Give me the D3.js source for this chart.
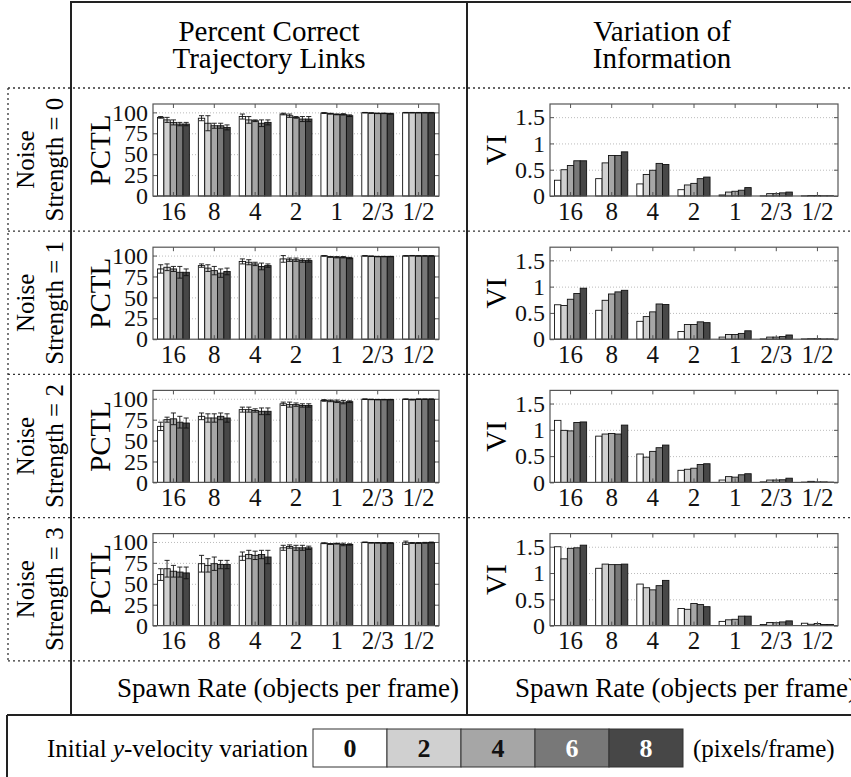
<!DOCTYPE html>
<html>
<head>
<meta charset="utf-8">
<title>PCTL and VI by spawn rate</title>
<script src="https://cdn.jsdelivr.net/npm/d3@7"></script>
<style>
  body { margin: 0; background: #fff; }
</style>
</head>
<body>
<script>
// spawn rates (groups) and y-velocity variations (series)
var rates = ["16", "8", "4", "2", "1", "2/3", "1/2"]
var velocities = [0, 2, 4, 6, 8]
var noiseLevels = [0, 1, 2, 3]
var velColors = ["#ffffff", "#d0d0d0", "#a6a6a6", "#787878", "#474747"]
var pctlTicks = [0, 25, 50, 75, 100]
var viTicks = [0, 0.5, 1, 1.5]

// percent correct trajectory links, [rate][velocity], one array per noise strength
var pctl0 = [[94, 91, 88, 86, 86], [93, 87, 84, 84, 82], [95, 91, 90, 87, 88], [98, 96, 94, 92, 92],
             [99.2, 98.4, 97.6, 97.6, 96], [99.6, 99.2, 98.8, 98.8, 98.4], [99.6, 99.6, 99.6, 99.6, 99.6]]
var pctl1 = [[84, 86, 84, 80, 80], [88, 85, 82, 79, 81], [93, 92, 90, 87, 88], [96, 95, 95, 94, 94],
             [99.6, 98.4, 98, 98, 97], [99.6, 99.2, 98.8, 98.8, 98.8], [99.6, 99.8, 99.6, 99.6, 99.6]]
var pctl2 = [[67, 75, 76, 72, 71], [79, 77, 77, 79, 77], [87, 87, 86, 85, 85], [94, 93, 93, 92, 92],
             [98, 97.5, 97, 96, 96.5], [99.5, 99.2, 99, 99, 99], [99.5, 99, 99.5, 99.5, 99.5]]
var pctl3 = [[61, 68, 65, 64, 63], [74, 72, 74, 73, 73], [83, 85, 84, 85, 82], [93, 94.5, 93, 93, 93],
             [98.5, 97.6, 98, 97, 97], [99.6, 99, 99, 98.8, 98.8], [99, 98.8, 98.8, 99, 99.4]]

// error bar half-lengths for the PCTL bars
var err0 = [[1, 3, 3, 2, 2], [3, 9, 3, 3, 3], [3, 4, 1, 4, 3], [1, 2, 1, 3, 3],
            [0.5, 0.5, 0.5, 0.8, 1], [0.3, 0.3, 0.3, 0.3, 0.5], [0.3, 0.3, 0.3, 0.3, 0.3]]
var err1 = [[5, 4, 3, 7, 4], [2, 4, 5, 5, 4], [3, 3, 2, 4, 2], [4, 2, 2, 2, 2],
            [0.3, 0.5, 0.8, 0.8, 0.8], [0.3, 0.3, 0.3, 0.3, 0.3], [0.3, 0.3, 0.3, 0.3, 0.3]]
var err2 = [[5, 3, 7, 7, 6], [4, 5, 5, 4, 5], [3, 3, 2, 4, 4], [2, 3, 2, 2, 2],
            [1, 1, 1.5, 2, 1], [0.3, 0.3, 0.3, 0.3, 0.3], [0.3, 0.5, 0.3, 0.3, 0.3]]
var err3 = [[7, 10, 7, 6, 7], [10, 8, 8, 5, 5], [5, 5, 5, 5, 8], [3, 2, 3, 3, 2],
            [0.5, 0.5, 0.5, 1.5, 0.8], [0.3, 0.3, 0.3, 0.5, 0.3], [2, 0.5, 0.5, 0.5, 0.5]]

// variation of information
var vi0 = [[0.30, 0.50, 0.58, 0.67, 0.67], [0.33, 0.63, 0.77, 0.77, 0.84], [0.23, 0.41, 0.49, 0.62, 0.60],
           [0.12, 0.21, 0.24, 0.33, 0.36], [0.02, 0.075, 0.09, 0.11, 0.16], [0.003, 0.045, 0.045, 0.06, 0.075],
           [0.003, 0.01, 0.01, 0.005, 0.005]]
var vi1 = [[0.655, 0.64, 0.76, 0.87, 0.97], [0.55, 0.74, 0.86, 0.90, 0.93], [0.34, 0.43, 0.52, 0.67, 0.66],
           [0.145, 0.28, 0.28, 0.33, 0.315], [0.04, 0.09, 0.09, 0.11, 0.16], [0.005, 0.04, 0.04, 0.05, 0.08],
           [0.005, 0.01, 0.01, 0.005, 0.005]]
var vi2 = [[1.18, 0.99, 0.98, 1.14, 1.15], [0.88, 0.92, 0.93, 0.92, 1.09], [0.54, 0.48, 0.59, 0.66, 0.71],
           [0.23, 0.25, 0.27, 0.34, 0.355], [0.045, 0.11, 0.10, 0.145, 0.165], [0.01, 0.045, 0.045, 0.05, 0.08],
           [0.005, 0.02, 0.01, 0.01, 0.005]]
var vi3 = [[1.5, 1.27, 1.47, 1.48, 1.53], [1.09, 1.17, 1.16, 1.16, 1.17], [0.79, 0.72, 0.68, 0.76, 0.86],
           [0.325, 0.31, 0.42, 0.40, 0.36], [0.08, 0.11, 0.12, 0.18, 0.18], [0.02, 0.06, 0.055, 0.07, 0.09],
           [0.045, 0.025, 0.04, 0.02, 0.02]]

var pctlRows = [pctl0, pctl1, pctl2, pctl3]
var errRows = [err0, err1, err2, err3]
var viRows = [vi0, vi1, vi2, vi3]

var W = 851, H = 777
var FONT = 'Liberation Serif'
var svg = d3.select('body').append('svg').attr('width', W).attr('height', H)
  .attr('font-family', FONT)
svg.append('rect').attr('width', W).attr('height', H).attr('fill', '#fff')

var headerH = 88, rowH = 143.2
var colX = [71, 467]
var legendTop = 715

// frame lines
var frame = svg.append('g').attr('stroke', '#222').attr('stroke-width', 2)
frame.append('line').attr('x1', colX[0]).attr('x2', W).attr('y1', 2).attr('y2', 2)
colX.forEach(function (x) {
  frame.append('line').attr('x1', x).attr('x2', x).attr('y1', 1).attr('y2', legendTop)
})
frame.append('line').attr('x1', 7).attr('x2', W).attr('y1', legendTop).attr('y2', legendTop)
frame.append('line').attr('x1', 7).attr('x2', 7).attr('y1', legendTop).attr('y2', H)

var dots = svg.append('g').attr('stroke', '#333').attr('stroke-width', 1.3).attr('stroke-dasharray', '2,3')
d3.range(5).forEach(function (i) {
  var y = headerH + i * rowH
  dots.append('line').attr('x1', 8).attr('x2', W).attr('y1', y).attr('y2', y)
})
dots.append('line').attr('x1', 8).attr('x2', 8).attr('y1', headerH).attr('y2', headerH + 4 * rowH)

// column titles
function title(cx, lines) {
  var t = svg.append('text').attr('text-anchor', 'middle').attr('font-size', 29)
  lines.forEach(function (s, i) {
    t.append('tspan').attr('x', cx).attr('y', 41 + i * 27).text(s)
  })
}
title((colX[0] + colX[1]) / 2, ['Percent Correct', 'Trajectory Links'])
title((colX[1] + W) / 2 + 3, ['Variation of', 'Information'])

// row labels
noiseLevels.forEach(function (n, i) {
  var cy = headerH + i * rowH + rowH / 2
  var g = svg.append('g').attr('transform', 'translate(0,' + cy + ') rotate(-90)')
  g.append('text').attr('text-anchor', 'middle').attr('y', 34).attr('font-size', 25).text('Noise')
  g.append('text').attr('text-anchor', 'middle').attr('y', 63).attr('font-size', 25).text('Strength = ' + n)
})

var panels = [
  { x0: 153, x1: 439, max: 110, ticks: pctlTicks, label: 'PCTL', labelX: 100, rows: pctlRows, errs: errRows },
  { x0: 550, x1: 838, max: 1.75, ticks: viTicks, label: 'VI', labelX: 496, rows: viRows, errs: null }
]

panels.forEach(function (p) {
  var x = d3.scaleBand().domain(rates).range([p.x0, p.x1])
  var inner = d3.scaleBand().domain(velocities).range([0, x.bandwidth() * 0.78])
  var off = (x.bandwidth() - inner.range()[1]) / 2

  noiseLevels.forEach(function (n, i) {
    var top = headerH + i * rowH + 16, bottom = top + 92
    var y = d3.scaleLinear().domain([0, p.max]).range([bottom, top])
    var g = svg.append('g')

    // dotted grid
    g.append('g').attr('transform', 'translate(' + p.x0 + ',0)')
      .call(d3.axisLeft(y).tickValues(p.ticks.slice(1)).tickSize(-(p.x1 - p.x0)).tickFormat(''))
      .call(function (s) {
        s.select('.domain').remove()
        s.selectAll('line').attr('stroke', '#aaa').attr('stroke-dasharray', '1,2').attr('stroke-width', 0.8)
      })

    // bars
    var data = []
    rates.forEach(function (r, ri) {
      velocities.forEach(function (v, vi) {
        data.push({ r: r, v: v, k: vi, val: p.rows[i][ri][vi], e: p.errs ? p.errs[i][ri][vi] : 0 })
      })
    })
    var bx = function (d) { return x(d.r) + off + inner(d.v) }
    g.selectAll('rect.bar').data(data).enter().append('rect')
      .attr('class', 'bar')
      .attr('x', bx)
      .attr('width', inner.bandwidth())
      .attr('y', function (d) { return y(d.val) })
      .attr('height', function (d) { return bottom - y(d.val) })
      .attr('fill', function (d) { return velColors[d.k] })
      .attr('stroke', '#111').attr('stroke-width', 0.9)

    if (p.errs) {
      var eb = g.selectAll('g.err').data(data).enter().append('g').attr('class', 'err')
        .attr('stroke', '#111').attr('stroke-width', 0.9)
      var cx = function (d) { return bx(d) + inner.bandwidth() / 2 }
      var cap = inner.bandwidth() * 0.4
      eb.append('line').attr('x1', cx).attr('x2', cx)
        .attr('y1', function (d) { return y(d.val - d.e) })
        .attr('y2', function (d) { return y(Math.min(d.val + d.e, p.max)) })
      ;[-1, 1].forEach(function (s) {
        eb.append('line')
          .attr('x1', function (d) { return cx(d) - cap }).attr('x2', function (d) { return cx(d) + cap })
          .attr('y1', function (d) { return y(Math.min(d.val + s * d.e, p.max)) })
          .attr('y2', function (d) { return y(Math.min(d.val + s * d.e, p.max)) })
      })
    }

    // axes box and inward ticks
    g.append('rect').attr('x', p.x0).attr('y', top).attr('width', p.x1 - p.x0).attr('height', bottom - top)
      .attr('fill', 'none').attr('stroke', '#555').attr('stroke-width', 1.2)

    var axStyle = function (s) {
      s.attr('font-family', FONT).attr('font-size', 24)
      s.select('.domain').remove()
      s.selectAll('line').attr('stroke', '#555')
      s.selectAll('text').attr('fill', '#111')
    }
    g.append('g').attr('transform', 'translate(0,' + bottom + ')')
      .call(d3.axisBottom(x).tickSize(-4).tickPadding(6)).call(axStyle)
      .attr('font-size', 25)
    g.append('g').attr('transform', 'translate(0,' + top + ')')
      .call(d3.axisTop(x).tickSize(-4).tickFormat('')).call(axStyle)
    g.append('g').attr('transform', 'translate(' + p.x0 + ',0)')
      .call(d3.axisLeft(y).tickValues(p.ticks).tickSize(-4).tickPadding(5).tickFormat(d3.format('~g'))).call(axStyle)
    g.append('g').attr('transform', 'translate(' + p.x1 + ',0)')
      .call(d3.axisRight(y).tickValues(p.ticks).tickSize(-4).tickFormat('')).call(axStyle)

    svg.append('text').attr('transform', 'translate(' + p.labelX + ',' + (top + bottom) / 2 + ') rotate(-90)')
      .attr('text-anchor', 'middle').attr('dy', '0.35em').attr('font-size', 29).text(p.label)
  })

  svg.append('text').attr('x', (p.x0 + p.x1) / 2 - 8).attr('y', 697)
    .attr('text-anchor', 'middle').attr('font-size', 27).text('Spawn Rate (objects per frame)')
})

// legend
var lg = svg.append('g')
var lx = d3.scaleBand().domain(velocities).range([313, 683])
var lt = lg.append('text').attr('x', 308).attr('y', 757).attr('text-anchor', 'end').attr('font-size', 25)
lt.append('tspan').text('Initial ')
lt.append('tspan').attr('font-style', 'italic').text('y')
lt.append('tspan').text('-velocity variation')
lg.selectAll('rect').data(velocities).enter().append('rect')
  .attr('x', function (d) { return lx(d) }).attr('y', 729)
  .attr('width', lx.bandwidth()).attr('height', 38)
  .attr('fill', function (d, i) { return velColors[i] })
  .attr('stroke', '#333').attr('stroke-width', 1)
lg.selectAll('text.num').data(velocities).enter().append('text').attr('class', 'num')
  .attr('x', function (d) { return lx(d) + lx.bandwidth() / 2 }).attr('y', 757)
  .attr('text-anchor', 'middle').attr('font-size', 26).attr('font-weight', 'bold')
  .attr('fill', function (d, i) { return i >= 3 ? '#fff' : '#111' })
  .text(function (d) { return d })
lg.append('text').attr('x', 693).attr('y', 757).attr('font-size', 25).text('(pixels/frame)')

svg.selectAll('text').attr('font-family', FONT)
</script>
</body>
</html>
